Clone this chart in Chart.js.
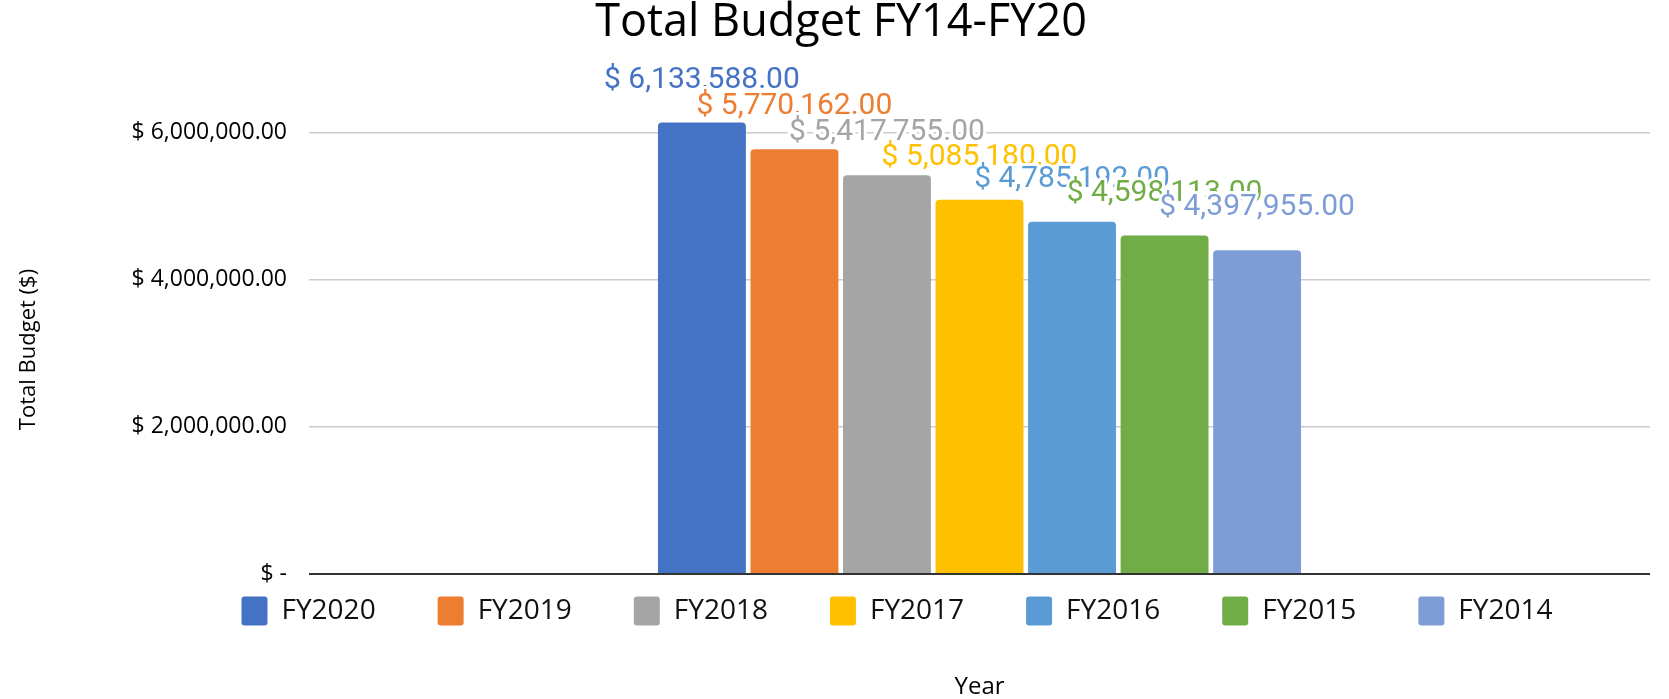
<!DOCTYPE html>
<html>
<head>
<meta charset="utf-8">
<script src="https://cdn.jsdelivr.net/npm/chart.js@4.4.1/dist/chart.umd.min.js"></script>
<style>
  html, body { margin: 0; padding: 0; background: #ffffff; }
  #wrap { width: 1669px; height: 699px; }
</style>
</head>
<body>
<div id="wrap"><canvas id="c" width="1669" height="699"></canvas></div>
<script>
// ---- data ----
const categories = ['FY14-FY20'];
const seriesNames = ['FY2020', 'FY2019', 'FY2018', 'FY2017', 'FY2016', 'FY2015', 'FY2014'];
const budgetValues = [6133588, 5770162, 5417755, 5085180, 4785192, 4598113, 4397955];
const yTickValues = [0, 2000000, 4000000, 6000000];
const seriesColors = ['#4472C4', '#ED7D31', '#A5A5A5', '#FFC000', '#5B9BD5', '#70AD47', '#7E9DD6'];

// ---- layout constants ----
const PAD_LEFT = 32;
const PAD_RIGHT = 19;
const Y_TITLE_SIZE = 22;
const Y_TITLE_LH = 0.6;
const Y_TITLE_PAD = -9.6;
const Y_TITLE_W = Y_TITLE_SIZE * Y_TITLE_LH + Y_TITLE_PAD;
const Y_AXIS_WIDTH = 309 - PAD_LEFT - Y_TITLE_W;
const LEGEND_PAD = 62;
const LEGEND_DX = 56;
const LEGEND_DY = -39.5;
const LABEL_OFFSET = 35;

function money(v) {
  return '$ ' + v.toLocaleString('en-US', { minimumFractionDigits: 2, maximumFractionDigits: 2 });
}

const datasets = seriesNames.map((name, i) => ({
  label: name,
  data: [budgetValues[i]],
  backgroundColor: seriesColors[i],
  borderWidth: 0,
  borderRadius: 4,
  borderSkipped: 'start',
  categoryPercentage: 0.483,
  barPercentage: 0.95
}));

const legendShift = {
  id: 'legendShift',
  afterLayout(chart) {
    const lg = chart.legend;
    if (!lg) return;
    lg.left += LEGEND_DX; lg.right += LEGEND_DX;
    lg.top += LEGEND_DY; lg.bottom += LEGEND_DY;
  }
};

const barLabels = {
  id: 'barLabels',
  afterDatasetsDraw(chart) {
    const ctx = chart.ctx;
    ctx.save();
    ctx.font = '30px Roboto';
    ctx.textAlign = 'center';
    ctx.textBaseline = 'alphabetic';
    ctx.lineJoin = 'round';
    chart.data.datasets.forEach((ds, i) => {
      const meta = chart.getDatasetMeta(i);
      const bar = meta.data[0];
      const txt = money(ds.data[0]);
      ctx.strokeStyle = '#ffffff';
      ctx.lineWidth = 6;
      ctx.strokeText(txt, bar.x, bar.y - LABEL_OFFSET);
      ctx.fillStyle = ds.backgroundColor;
      ctx.fillText(txt, bar.x, bar.y - LABEL_OFFSET);
    });
    ctx.restore();
  }
};

Chart.defaults.font.family = "'Open Sans', sans-serif";
Chart.defaults.color = '#111111';

new Chart(document.getElementById('c'), {
  type: 'bar',
  data: { labels: categories, datasets: datasets },
  options: {
    responsive: false,
    animation: false,
    devicePixelRatio: 1,
    layout: { padding: { left: PAD_LEFT, right: PAD_RIGHT, top: 0, bottom: 0 } },
    plugins: {
      title: {
        display: true,
        text: 'Total Budget FY14-FY20',
        color: '#000000',
        font: { size: 45, weight: 'normal', lineHeight: 1.05 },
        padding: { top: 0, bottom: 11.5 }
      },
      subtitle: {
        display: true,
        position: 'left',
        fullSize: true,
        text: 'Total Budget ($)',
        color: '#000000',
        font: { size: Y_TITLE_SIZE, weight: 'normal', lineHeight: Y_TITLE_LH },
        padding: { top: Y_TITLE_PAD, bottom: 0 }
      },
      legend: {
        position: 'bottom',
        maxHeight: 103,
        labels: {
          boxWidth: 26,
          boxHeight: 29,
          useBorderRadius: true,
          borderRadius: 3,
          padding: LEGEND_PAD,
          color: '#111111',
          font: { size: 28 }
        }
      },
      tooltip: { enabled: false }
    },
    scales: {
      x: {
        weight: 2000,
        grid: { display: false, drawTicks: false },
        border: { display: false },
        ticks: { display: false },
        title: {
          display: true,
          text: 'Year',
          color: '#000000',
          font: { size: 24, lineHeight: 1.0 },
          padding: { top: 0, bottom: 0 }
        }
      },
      y: {
        min: 0,
        max: 7000000,
        afterBuildTicks(scale) {
          scale.ticks = yTickValues.map(v => ({ value: v }));
        },
        afterFit(scale) { scale.width = Y_AXIS_WIDTH; },
        border: { display: false },
        grid: {
          drawTicks: false,
          color: c => (c.tick && c.tick.value === 0) ? '#333333' : '#cccccc',
          lineWidth: c => (c.tick && c.tick.value === 0) ? 2 : 1.5
        },
        ticks: {
          padding: 22,
          color: '#000000',
          font: { size: 23 },
          callback: v => v === 0 ? '$ -' : money(v)
        },
        title: { display: false }
      }
    }
  },
  plugins: [legendShift, barLabels]
});
</script>
</body>
</html>
